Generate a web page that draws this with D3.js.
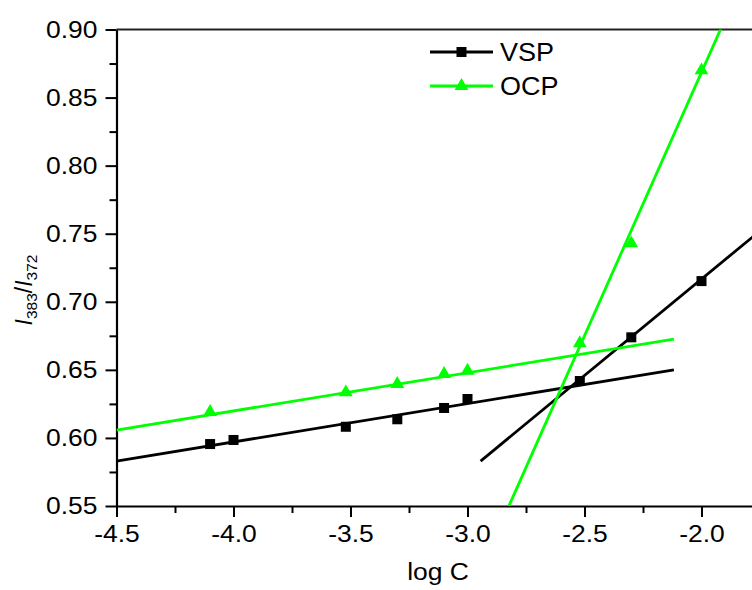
<!DOCTYPE html>
<html>
<head>
<meta charset="utf-8">
<script src="https://cdn.jsdelivr.net/npm/d3@7"></script>
<style>
  body { margin: 0; background: #fff; overflow: hidden; }
  svg { display: block; font-family: "Liberation Sans", Arial, sans-serif; }
</style>
</head>
<body>
<div id="chart"></div>
<script>
// measured points
const logC = [-4.1, -4.0, -3.52, -3.3, -3.1, -3.0, -2.52, -2.3, -2.0];
const vspValues = [0.5955, 0.5985, 0.6082, 0.6137, 0.622, 0.6286, 0.6418, 0.6739, 0.7152];
const ocpX = [-4.1, -3.52, -3.3, -3.1, -3.0, -2.52, -2.3, -2.0];
const ocpValues = [0.619, 0.6335, 0.6396, 0.647, 0.6494, 0.6695, 0.7429, 0.870];

// fitted straight lines [x, y] end points
const vspFitLow = [[-4.5, 0.583], [-2.118, 0.650]];
const vspFitHigh = [[-2.944, 0.583], [-1.5, 0.7875]];
const ocpFitLow = [[-4.5, 0.6058], [-2.118, 0.6726]];
const ocpFitHigh = [[-2.823, 0.55], [-1.8, 0.946]];

const xTicks = [-4.5, -4.0, -3.5, -3.0, -2.5, -2.0];
const yTicks = [0.55, 0.60, 0.65, 0.70, 0.75, 0.80, 0.85, 0.90];

const width = 752, height = 590;
const plotLeft = 116.5, plotTop = 29.5, plotBottom = 506;
const black = "#000", green = "#00ff00";
const stretch = 1.08; // the original text is a little wide

const svg = d3.select("#chart").append("svg")
    .attr("width", width)
    .attr("height", height);

const x = d3.scaleLinear().domain([-4.5, -1.5]).range([plotLeft, plotLeft + 3 * 234]);
const y = d3.scaleLinear().domain([0.55, 0.90]).range([plotBottom, plotTop]);

svg.append("clipPath").attr("id", "plot")
  .append("rect")
    .attr("x", plotLeft).attr("y", plotTop)
    .attr("width", width - plotLeft).attr("height", plotBottom - plotTop);

// minor ticks
svg.append("g")
    .attr("transform", `translate(0,${plotBottom})`)
    .call(d3.axisBottom(x).tickValues(d3.range(-4.25, -1.7, 0.5)).tickSize(7).tickFormat("").tickSizeOuter(0))
    .call(g => g.select(".domain").remove())
    .selectAll("line").attr("stroke-width", 2);
svg.append("g")
    .attr("transform", `translate(${plotLeft},0)`)
    .call(d3.axisLeft(y).tickValues(d3.range(0.575, 0.9, 0.05)).tickSize(7).tickFormat("").tickSizeOuter(0))
    .call(g => g.select(".domain").remove())
    .selectAll("line").attr("stroke-width", 2);

// major axes
const xAxis = svg.append("g")
    .attr("transform", `translate(0,${plotBottom})`)
    .call(d3.axisBottom(x).tickValues(xTicks).tickSize(11).tickSizeOuter(0)
      .tickFormat(d => d.toFixed(1)));
const yAxis = svg.append("g")
    .attr("transform", `translate(${plotLeft},0)`)
    .call(d3.axisLeft(y).tickValues(yTicks).tickSize(11).tickSizeOuter(0)
      .tickFormat(d => d.toFixed(2)));

[xAxis, yAxis].forEach(g => {
  g.select(".domain").attr("stroke-width", 2.2);
  g.selectAll(".tick line").attr("stroke-width", 2);
  g.selectAll(".tick text")
    .attr("font-size", 24.5)
    .attr("fill", "#000")
    .attr("font-family", "Liberation Sans, Arial, sans-serif");
});
xAxis.selectAll(".tick text")
    .attr("y", 0).attr("dy", null)
    .attr("transform", `translate(0,${542 - plotBottom}) scale(${stretch},1)`);
yAxis.selectAll(".tick text")
    .attr("x", 0)
    .attr("transform", `translate(-19,0) scale(${stretch},1)`);

// top frame line
svg.append("line")
    .attr("x1", plotLeft).attr("x2", width)
    .attr("y1", plotTop).attr("y2", plotTop)
    .attr("stroke", "#222").attr("stroke-width", 2.2);

// fit lines
const line = d3.line().x(d => x(d[0])).y(d => y(d[1]));
const plot = svg.append("g").attr("clip-path", "url(#plot)");
[[vspFitLow, black], [vspFitHigh, black], [ocpFitLow, green], [ocpFitHigh, green]].forEach(([pts, c]) => {
  plot.append("path")
      .attr("d", line(pts))
      .attr("fill", "none")
      .attr("stroke", c)
      .attr("stroke-width", 2.8);
});

// markers
plot.append("g").selectAll("rect")
  .data(logC.map((v, i) => [v, vspValues[i]]))
  .join("rect")
    .attr("x", d => x(d[0]) - 5)
    .attr("y", d => y(d[1]) - 5)
    .attr("width", 10).attr("height", 10)
    .attr("fill", black);

const tri = d3.symbol().type(d3.symbolTriangle).size(82);
plot.append("g").selectAll("path")
  .data(ocpX.map((v, i) => [v, ocpValues[i]]))
  .join("path")
    .attr("d", tri)
    .attr("transform", d => `translate(${x(d[0])},${y(d[1])})`)
    .attr("fill", green);

// legend
const legend = [
  { name: "VSP", color: black, shape: "square", y: 52 },
  { name: "OCP", color: green, shape: "triangle", y: 86 }
];
legend.forEach(l => {
  svg.append("line")
      .attr("x1", 430).attr("x2", 493)
      .attr("y1", l.y).attr("y2", l.y)
      .attr("stroke", l.color).attr("stroke-width", 2.8);
  if (l.shape === "square") {
    svg.append("rect").attr("x", 456.5).attr("y", l.y - 5)
        .attr("width", 10).attr("height", 10).attr("fill", l.color);
  } else {
    svg.append("path").attr("d", tri)
        .attr("transform", `translate(461.5,${l.y})`).attr("fill", l.color);
  }
  svg.append("text")
      .attr("transform", `translate(500,${l.y + 9}) scale(${stretch},1)`)
      .attr("font-size", 25)
      .text(l.name);
});

// axis titles
svg.append("text")
    .attr("transform", `translate(438,580) scale(${stretch},1)`)
    .attr("text-anchor", "middle")
    .attr("font-size", 24.5)
    .text("log C");

const yl = svg.append("text")
    .attr("transform", "translate(32,290) rotate(-90)")
    .attr("text-anchor", "middle")
    .attr("font-size", 23);
yl.append("tspan").attr("font-style", "italic").text("I");
yl.append("tspan").attr("font-size", 15.5).attr("dy", 4.5).text("383");
yl.append("tspan").attr("dy", -4.5).text("/");
yl.append("tspan").attr("font-style", "italic").text("I");
yl.append("tspan").attr("font-size", 15.5).attr("dy", 4.5).text("372");
</script>
</body>
</html>
